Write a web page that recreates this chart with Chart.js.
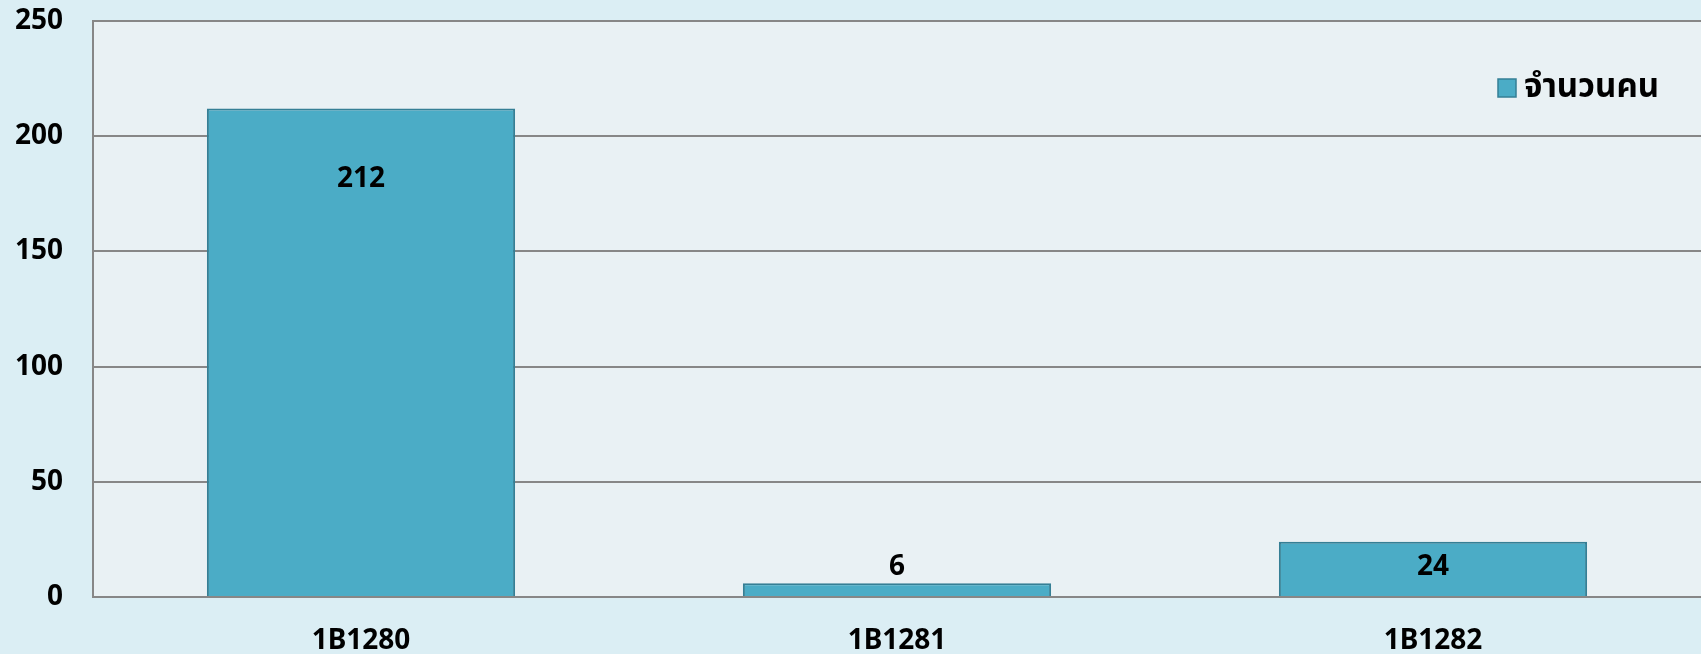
<!DOCTYPE html>
<html>
<head>
<meta charset="utf-8">
<script src="https://cdn.jsdelivr.net/npm/chart.js@4"></script>
<style>
    html, body { margin: 0; padding: 0; background: #dbeef4; }
    #wrap { width: 1701px; height: 654px; }
</style>
</head>
<body>
<div id="wrap"><canvas id="barChart"></canvas></div>
<script>
// --- Data ---
const categories = ['1B1280', '1B1281', '1B1282'];
const headcount = [212, 6, 24];
const seriesName = 'จำนวนคน';
const yTicks = [0, 50, 100, 150, 200, 250];

const FONT = '"Noto Sans", "Noto Sans Thai", "Liberation Sans", sans-serif';

// Plot area background (lighter panel inside the chart)
const plotBackground = {
    id: 'plotBackground',
    beforeDraw(chart) {
        const { ctx, chartArea: a } = chart;
        ctx.save();
        ctx.fillStyle = '#e9f1f4';
        ctx.fillRect(a.left, a.top, a.right - a.left, a.bottom - a.top);
        ctx.restore();
    }
};

// Value labels on the bars
const valueLabels = {
    id: 'valueLabels',
    afterDatasetsDraw(chart) {
        const { ctx } = chart;
        const meta = chart.getDatasetMeta(0);
        ctx.save();
        ctx.font = 'bold 28px ' + FONT;
        ctx.fillStyle = '#000';
        ctx.textAlign = 'center';
        ctx.textBaseline = 'middle';
        meta.data.forEach((bar, i) => {
            const y = Math.min(bar.y + 70, chart.chartArea.bottom - 30);
            ctx.fillText(chart.data.datasets[0].data[i], bar.x, y);
        });
        ctx.restore();
    }
};

// Legend drawn inside the plot, top right
const insideLegend = {
    id: 'insideLegend',
    afterDraw(chart) {
        const { ctx } = chart;
        const ds = chart.data.datasets[0];
        const x = 1498, y = 88;
        ctx.save();
        ctx.fillStyle = ds.backgroundColor;
        ctx.strokeStyle = ds.borderColor;
        ctx.lineWidth = 1.5;
        ctx.fillRect(x, y - 9, 18, 18);
        ctx.strokeRect(x, y - 9, 18, 18);
        ctx.font = 'bold 33px ' + FONT;
        ctx.fillStyle = '#000';
        ctx.textBaseline = 'middle';
        ctx.fillText(ds.label, x + 26, y);
        ctx.restore();
    }
};

const ctx = document.getElementById('barChart').getContext('2d');

new Chart(ctx, {
    type: 'bar',
    data: {
        labels: categories,
        datasets: [{
            label: seriesName,
            data: headcount,
            backgroundColor: '#4bacc6',
            borderColor: '#357f95',
            borderWidth: 2,
            borderSkipped: 'bottom',
            barPercentage: 0.575,
            categoryPercentage: 1.0
        }]
    },
    options: {
        responsive: true,
        maintainAspectRatio: false,
        animation: false,
        layout: { padding: { top: 21, right: 0, left: 0, bottom: 0 } },
        plugins: {
            legend: { display: false },
            tooltip: { enabled: false }
        },
        scales: {
            x: {
                grid: { display: false },
                border: { color: '#878787', width: 2 },
                ticks: {
                    color: '#000',
                    font: { family: FONT, size: 28, weight: 'bold' },
                    padding: 19
                },
                afterFit(scale) {
                    scale.height = 57;
                    scale.paddingLeft = 0;
                    scale.paddingRight = 0;
                }
            },
            y: {
                min: 0,
                max: 250,
                afterBuildTicks(scale) {
                    scale.ticks = yTicks.map(v => ({ value: v }));
                },
                grid: {
                    color: '#878787',
                    lineWidth: 2,
                    drawTicks: false
                },
                border: { color: '#878787', width: 2 },
                ticks: {
                    color: '#000',
                    font: { family: FONT, size: 28, weight: 'bold' },
                    padding: 30
                },
                afterFit(scale) {
                    scale.width = 93;
                    scale.paddingTop = 0;
                    scale.paddingBottom = 0;
                }
            }
        }
    },
    plugins: [plotBackground, valueLabels, insideLegend]
});
</script>
</body>
</html>
